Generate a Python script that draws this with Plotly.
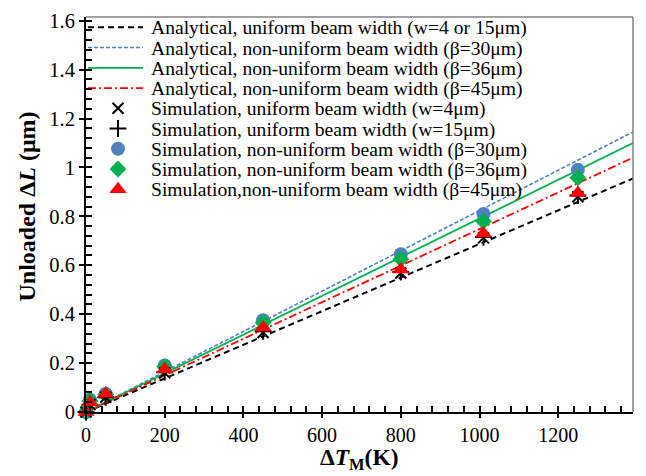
import plotly.graph_objects as go

# ---- data ----
dT_line = [0, 1390]
ana_uniform = [0, 0.955]
ana_b30 = [0, 1.145]
ana_b36 = [0, 1.10]
ana_b45 = [0, 1.04]

dT_sim = [0, 10, 50, 200, 450, 800, 1010, 1250]
sim_w4 = [0, 0.030, 0.060, 0.160, 0.325, 0.568, 0.712, 0.880]
sim_w15 = [0, 0.030, 0.060, 0.163, 0.330, 0.572, 0.715, 0.885]
sim_b30 = [0, 0.050, 0.075, 0.190, 0.375, 0.645, 0.810, 0.990]
sim_b36 = [0, 0.045, 0.072, 0.185, 0.365, 0.625, 0.780, 0.958]
sim_b45 = [0, 0.040, 0.075, 0.175, 0.345, 0.583, 0.730, 0.895]

names = [
    "Analytical, uniform beam width (w=4 or 15μm)",
    "Analytical, non-uniform beam width (β=30μm)",
    "Analytical, non-uniform beam width (β=36μm)",
    "Analytical, non-uniform beam width (β=45μm)",
    "Simulation, uniform beam width (w=4μm)",
    "Simulation, uniform beam width (w=15μm)",
    "Simulation, non-uniform beam width (β=30μm)",
    "Simulation, non-uniform beam width (β=36μm)",
    "Simulation,non-uniform beam width (β=45μm)",
]

BLUE = "#4F81BD"
GREEN = "#00B050"
RED = "#FF0000"
FONT = "Liberation Serif"

line_styles = [
    dict(color="black", width=2, dash="6px,4px"),
    dict(color=BLUE, width=1.6, dash="4px,2px"),
    dict(color=GREEN, width=1.8),
    dict(color=RED, width=1.8, dash="8px,3px,2px,3px"),
]
marker_styles = [
    dict(symbol="x-thin-open", size=11, color="black", line=dict(width=2, color="black")),
    dict(symbol="cross-thin-open", size=12, color="black", line=dict(width=2, color="black")),
    dict(symbol="circle", size=14, color=BLUE),
    dict(symbol="diamond", size=13, color=GREEN),
    dict(symbol="triangle-up", size=15, color=RED),
]

fig = go.Figure()
for yv, st, nm in zip([ana_uniform, ana_b30, ana_b36, ana_b45], line_styles, names[:4]):
    fig.add_trace(go.Scatter(x=dT_line, y=yv, mode="lines", name=nm, line=st,
                             showlegend=False))

sim_series = [sim_w4, sim_w15, sim_b30, sim_b36, sim_b45]
draw_order = [2, 3, 0, 1, 4]
for k in draw_order:
    fig.add_trace(go.Scatter(x=dT_sim, y=sim_series[k], mode="markers", name=names[4 + k],
                             marker=marker_styles[k], cliponaxis=False, showlegend=False))

# ---- legend (drawn on an auxiliary pixel-scaled overlay axis) ----
PLOT_W, PLOT_H = 547, 402
row_h = 20.6
row0 = 10.5
for i, nm in enumerate(names):
    yy = row0 + row_h * i
    if i < 4:
        fig.add_trace(go.Scatter(x=[2, 57], y=[yy, yy], mode="lines", line=line_styles[i],
                                 xaxis="x3", yaxis="y3", showlegend=False, hoverinfo="skip"))
    else:
        fig.add_trace(go.Scatter(x=[32], y=[yy], mode="markers", marker=marker_styles[i - 4],
                                 xaxis="x3", yaxis="y3", showlegend=False, hoverinfo="skip"))
    fig.add_annotation(text=nm, xref="x3", yref="y3", x=63, y=yy + 1, xanchor="left",
                       yanchor="middle", showarrow=False,
                       font=dict(family=FONT, size=19.6, color="black"))

axis_font = dict(family=FONT, size=20, color="black")

fig.update_layout(
    width=646, height=476,
    margin=dict(l=86, r=13, t=10, b=64),
    paper_bgcolor="white", plot_bgcolor="white",
    font=dict(family=FONT, color="black"),
    showlegend=False,
    xaxis=dict(range=[0, 1390], tick0=0, dtick=200, ticks="outside", ticklen=4,
               tickwidth=2, tickcolor="black", showline=True, linewidth=2, linecolor="black",
               showgrid=False, zeroline=False, tickfont=axis_font,
               minor=dict(dtick=40, ticks="inside", ticklen=6, tickwidth=1.5, tickcolor="black")),
    yaxis=dict(range=[0, 1.615], tick0=0, dtick=0.2, ticks="outside", ticklen=5,
               tickwidth=2, tickcolor="black", showline=True, linewidth=2, linecolor="black",
               showgrid=False, zeroline=False, tickfont=dict(family=FONT, size=20.5, color="black"),
               tickvals=[0, 0.2, 0.4, 0.6, 0.8, 1.0, 1.2, 1.4, 1.6],
               ticktext=["0", "0.2", "0.4", "0.6", "0.8", "1", "1.2", "1.4", "1.6"],
               minor=dict(dtick=0.04, ticks="inside", ticklen=6, tickwidth=1.5, tickcolor="black")),
    xaxis2=dict(overlaying="x", anchor="y", side="bottom", range=[0, 1390], tick0=0, dtick=200,
                ticks="inside", ticklen=5, tickwidth=2, tickcolor="black", showticklabels=False,
                showline=False, showgrid=False, zeroline=False),
    yaxis2=dict(overlaying="y", anchor="x", side="left", range=[0, 1.615], tick0=0, dtick=0.2,
                ticks="inside", ticklen=5, tickwidth=2, tickcolor="black", showticklabels=False,
                showline=False, showgrid=False, zeroline=False),
    xaxis3=dict(overlaying="x", anchor="y3", range=[0, PLOT_W], visible=False, fixedrange=True),
    yaxis3=dict(overlaying="y", anchor="x3", range=[PLOT_H, 0], visible=False, fixedrange=True),
)

# gray frame on top/right
fig.add_shape(type="line", xref="paper", yref="paper", x0=0, x1=1, y0=1, y1=1,
              line=dict(color="#808080", width=1.5))
fig.add_shape(type="line", xref="paper", yref="paper", x0=1, x1=1, y0=0, y1=1,
              line=dict(color="#808080", width=1.5))

fig.add_annotation(text="<b>Unloaded Δ<i>L</i> (μm)</b>", xref="paper", yref="paper",
                   x=-0.108, y=0.52, xanchor="center", yanchor="middle", textangle=-90,
                   showarrow=False, font=dict(family=FONT, size=24, color="black"))
fig.add_annotation(text="<b>Δ<i>T</i><sub>M</sub>(K)</b>", xref="paper", yref="paper",
                   x=0.5, y=-0.118, xanchor="center", yanchor="middle",
                   showarrow=False, font=dict(family=FONT, size=23.5, color="black"))

fig.write_html("out.html")
